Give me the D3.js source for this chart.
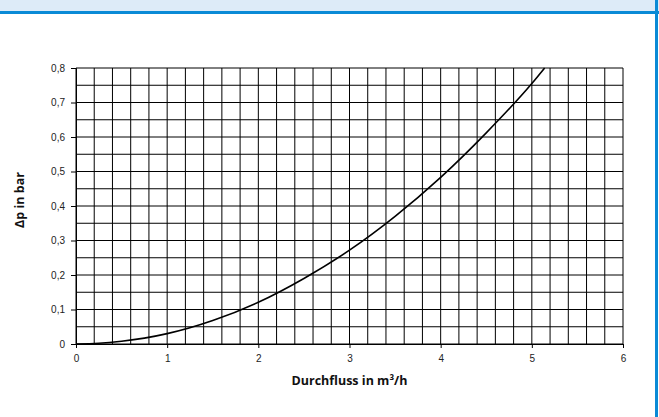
<!DOCTYPE html>
<html>
<head>
<meta charset="utf-8">
<script src="https://cdn.jsdelivr.net/npm/d3@7"></script>
<style>
  body { margin: 0; background: #fff; }
  svg { display: block; }
</style>
</head>
<body>
<svg id="chart" width="659" height="417"></svg>
<script>
// curve: flow (m3/h) vs pressure loss (bar)
const flow = [0, 0.25, 0.5, 0.75, 1, 1.5, 2, 2.5, 3, 3.5, 4, 4.5, 5, 5.14];
const dp = [0, 0.002, 0.008, 0.017, 0.03, 0.068, 0.121, 0.19, 0.272, 0.37, 0.483, 0.612, 0.755, 0.8];

const xTicks = [0, 1, 2, 3, 4, 5, 6];
const yTicks = [0, 0.1, 0.2, 0.3, 0.4, 0.5, 0.6, 0.7, 0.8];
const xTitle = 'Durchfluss in m³/h';
const yTitle = 'Δp in bar';

const svg = d3.select('#chart');

// header strip and frame
svg.append('rect').attr('x', 0).attr('y', 0).attr('width', 659).attr('height', 12)
    .attr('fill', '#ddebf8');
svg.append('rect').attr('x', 0).attr('y', 11).attr('width', 659).attr('height', 3)
    .attr('fill', '#0a8ad6');
svg.append('rect').attr('x', 655).attr('y', 0).attr('width', 3).attr('height', 417)
    .attr('fill', '#0a8ad6');

const margin = { left: 76, top: 68, right: 36, bottom: 73 };
const width = 659 - margin.left - margin.right;
const height = 417 - margin.top - margin.bottom;

const g = svg.append('g').attr('transform', `translate(${margin.left},${margin.top})`);

const x = d3.scaleLinear().domain([0, 6]).range([0, width]);
const y = d3.scaleLinear().domain([0, 0.8]).range([height, 0]);

// grid: every 0.2 on x, every 0.05 on y
const gridX = d3.range(0, 30 + 1).map(i => i * 0.2);
const gridY = d3.range(0, 16 + 1).map(i => i * 0.05);

g.selectAll('.gx').data(gridX).join('line')
    .attr('x1', d => x(d)).attr('x2', d => x(d))
    .attr('y1', 0).attr('y2', height)
    .attr('stroke', '#000').attr('stroke-width', 1);

g.selectAll('.gy').data(gridY).join('line')
    .attr('x1', 0).attr('x2', width)
    .attr('y1', d => y(d)).attr('y2', d => y(d))
    .attr('stroke', '#000').attr('stroke-width', 1);

// axes
const xAxis = d3.axisBottom(x).tickValues(xTicks).tickSize(4).tickPadding(7)
    .tickFormat(d => d3.format('d')(d));
const yAxis = d3.axisLeft(y).tickValues(yTicks).tickSize(5).tickPadding(6)
    .tickFormat(d => d === 0 ? '0' : d3.format('.1f')(d).replace('.', ','));

const gx = g.append('g').attr('transform', `translate(0,${height})`).call(xAxis);
const gy = g.append('g').call(yAxis);

[gx, gy].forEach(a => {
    a.attr('font-size', null);
    a.select('.domain').attr('stroke', '#000');
    a.selectAll('.tick line').attr('stroke', '#000');
    a.selectAll('.tick text')
        .attr('fill', '#222')
        .style('font-family', '"Liberation Sans", Arial, sans-serif')
        .style('font-size', '10px');
});

// curve
const line = d3.line()
    .x((d, i) => x(flow[i]))
    .y(d => y(d))
    .curve(d3.curveMonotoneX);

g.append('path')
    .datum(dp)
    .attr('fill', 'none')
    .attr('stroke', '#000')
    .attr('stroke-width', 1.6)
    .attr('d', line);

// axis titles
svg.append('text')
    .attr('x', margin.left + width / 2)
    .attr('y', 385)
    .attr('text-anchor', 'middle')
    .style('font-family', '"Open Sans", sans-serif')
    .style('font-weight', 700)
    .style('font-size', '12.5px')
    .attr('fill', '#111')
    .text(xTitle);

svg.append('text')
    .attr('transform', 'translate(24,200) rotate(-90)')
    .attr('text-anchor', 'middle')
    .style('font-family', '"Open Sans", sans-serif')
    .style('font-weight', 700)
    .style('font-size', '12.5px')
    .attr('fill', '#111')
    .text(yTitle);
</script>
</body>
</html>
